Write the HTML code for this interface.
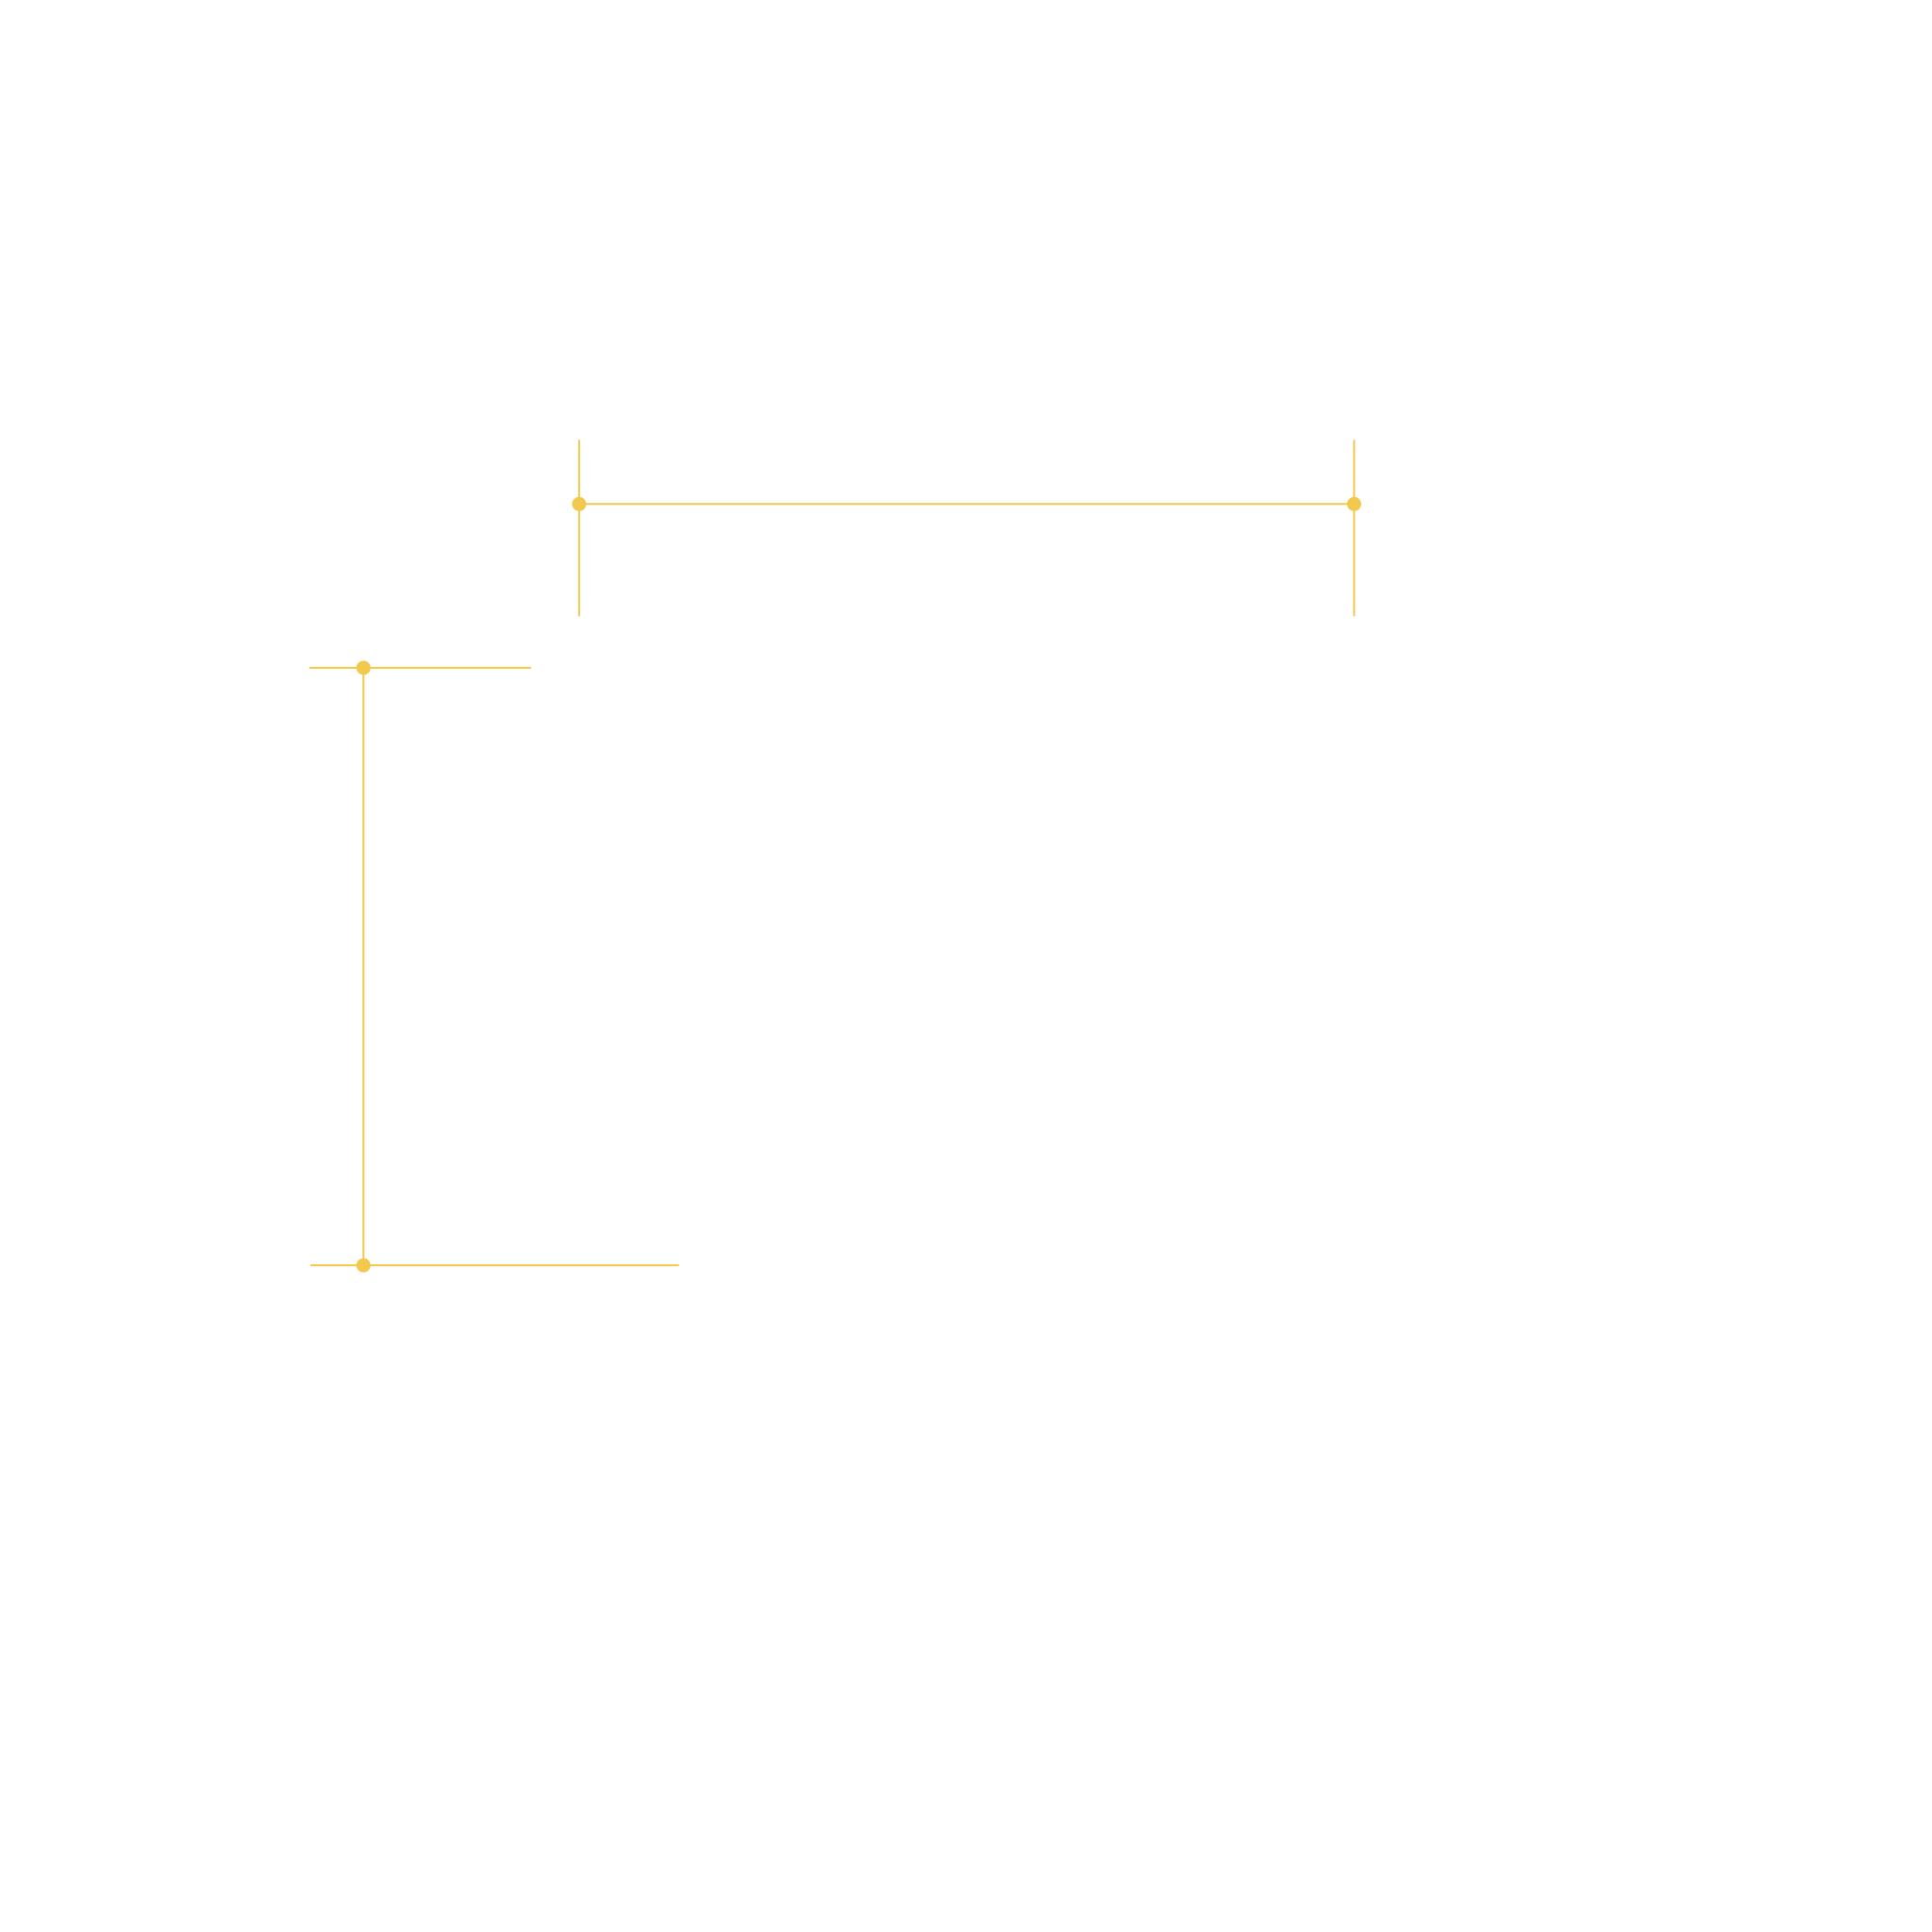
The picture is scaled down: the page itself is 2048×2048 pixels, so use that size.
<!DOCTYPE html>
<html>
<head>
<meta charset="utf-8">
<style>
  html, body { margin: 0; padding: 0; background: #ffffff; }
  svg { display: block; }
</style>
</head>
<body>
<svg width="2048" height="2048" viewBox="0 0 2048 2048" xmlns="http://www.w3.org/2000/svg">
  <rect width="2048" height="2048" fill="#ffffff"/>
  <g transform="translate(1.3,1.3)">
  <g stroke="#f2c94c" stroke-width="2" fill="none">
    <line x1="612.6" y1="533" x2="1434.1" y2="533"/>
    <line x1="612.6" y1="465" x2="612.6" y2="652"/>
    <line x1="1434.1" y1="465" x2="1434.1" y2="652"/>
    <line x1="326.5" y1="706.6" x2="561.6" y2="706.6"/>
    <line x1="384" y1="706.6" x2="384" y2="1340"/>
    <line x1="327.8" y1="1340" x2="718.4" y2="1340"/>
  </g>
  <g fill="#f2c94c">
    <circle cx="612.6" cy="533" r="7.5"/>
    <circle cx="1434.1" cy="533" r="7.5"/>
    <circle cx="384" cy="706.6" r="7.5"/>
    <circle cx="384" cy="1340" r="7.5"/>
  </g>
  </g>
</svg>
</body>
</html>
